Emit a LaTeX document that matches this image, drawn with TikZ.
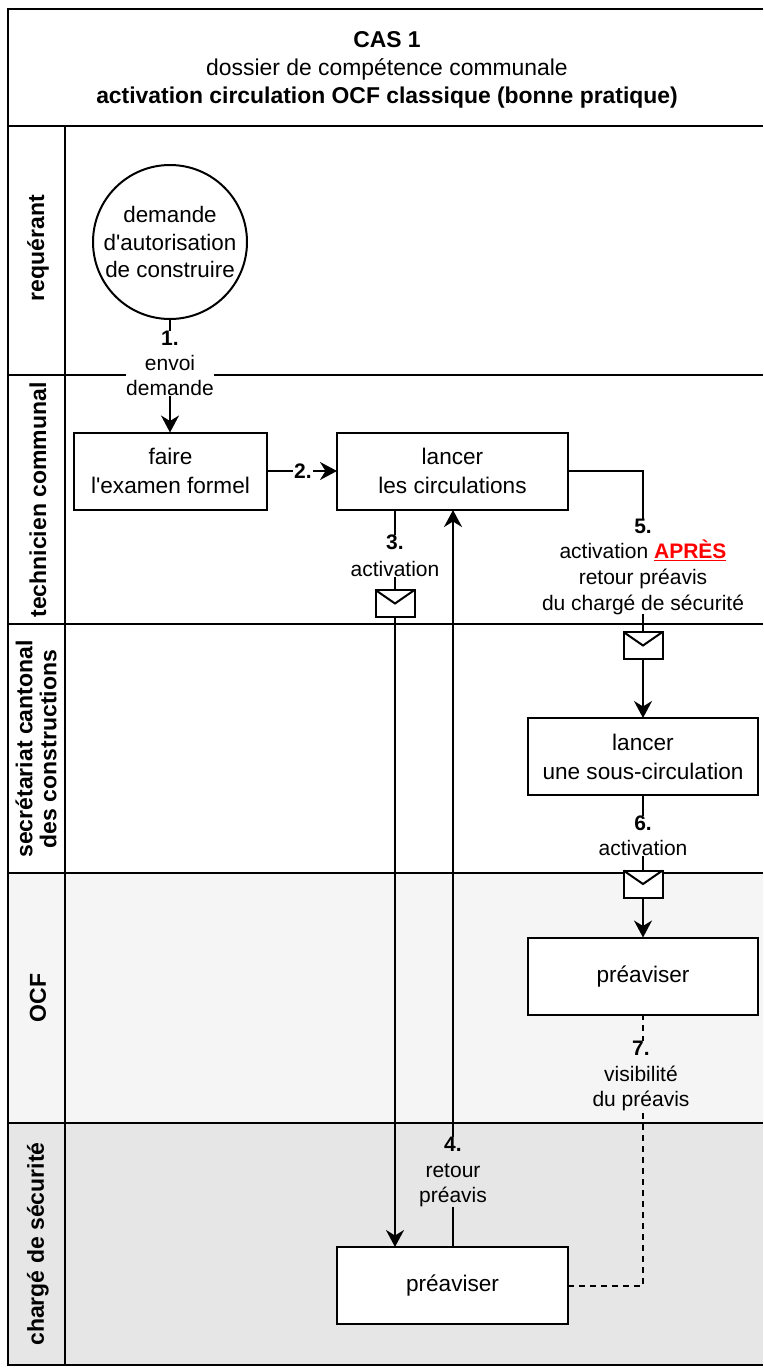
\documentclass[tikz,border=0pt]{standalone}
\usepackage{fontspec}
\setmainfont{Liberation Sans}
\newfontfamily\rawf{Liberation Sans}
\usetikzlibrary{arrows.meta}
\definecolor{laneA}{HTML}{F5F5F5}
\definecolor{laneB}{HTML}{E6E6E6}
\tikzset{
  x=1pt,y=-1pt,
  taskbox/.style={draw,line width=2pt,fill=white,align=center,font=\fontsize{22.6}{29}\selectfont,anchor=north west,inner sep=0pt,outer sep=0pt},
  startc/.style={draw,circle,line width=2pt,fill=white,minimum size=154pt,inner sep=0pt,outer sep=0pt,align=center,font=\fontsize{22.4}{27.3}\selectfont},
  lanelabel/.style={rotate=90,align=center,font=\fontsize{23}{24}\selectfont\bfseries},
  elabel/.style={align=center,font=\fontsize{21}{25.2}\selectfont,inner sep=0pt},
  mailbox/.style={draw,line width=2pt,fill=white,minimum width=39pt,minimum height=27pt,inner sep=0pt,outer sep=0pt},
  flow/.style={line width=2pt},
  tip/.style={-{Stealth[length=17pt,width=18pt,inset=5.5pt]}},
  lanerule/.style={line width=2pt},
}
\begin{document}
\begin{tikzpicture}
\useasboundingbox (0,0) rectangle (763,1368);
% lane backgrounds
\fill[laneA] (8,873) rectangle (763,1123);
\fill[laneB] (8,1123) rectangle (763,1365);
% frame and rules
\draw[lanerule] (763,9) -- (8,9) -- (8,1365) -- (763,1365);
\foreach \yy in {126,375,624,873,1123} \draw[lanerule] (8,\yy) -- (763,\yy);
\draw[lanerule] (65,126) -- (65,1365);
\node[align=center,font=\fontsize{22.9}{28}\selectfont] (title) at (387,70) {\textbf{CAS 1}\\dossier de compétence communale\\\textbf{activation circulation OCF classique (bonne pratique)}};
\node[lanelabel] (l1) at (38,248) {requérant};
\node[lanelabel] (l2) at (38,500) {technicien communal};
\node[lanelabel] (l3) at (36,749) {secrétariat cantonal\\des constructions};
\node[lanelabel] (l4) at (38,998) {OCF};
\node[lanelabel] (l5) at (38,1244) {chargé de sécurité};
% tasks
\node[startc] (dem) at (170,242) {demande\\d{\rawf '}autorisation\\de construire};
\node[taskbox,minimum width=193pt,minimum height=77pt] (exam) at (74,432.5) {faire\\l{\rawf '}examen formel};
\node[taskbox,minimum width=231pt,minimum height=77pt] (lancer) at (337,432.5) {lancer\\les circulations};
\node[taskbox,minimum width=230pt,minimum height=77pt] (sous) at (528,718) {lancer\\une sous-circulation};
\node[taskbox,minimum width=230pt,minimum height=77pt] (preO) at (528,937.5) {\raisebox{-6pt}[0pt][0pt]{préaviser}};
\node[taskbox,minimum width=231pt,minimum height=77pt] (preC) at (337,1247) {\raisebox{-6pt}[0pt][0pt]{préaviser}};
% anchors on the boxes
\coordinate (c3a) at (395,510);
\coordinate (c3b) at (395,1247);
\coordinate (c4a) at (453,1247);
\coordinate (c4b) at (453,510);
\coordinate (c5) at (643,500);
% connectors
\draw[flow,tip] (dem.south) -- (exam.north -| dem.south);
\draw[flow,tip] (exam.east) -- (lancer.west);
\draw[flow,tip] (c3a) -- (c3b);
\draw[flow,tip] (c4a) -- (c4b);
\draw[flow,tip] (lancer.east) -- (lancer.east -| c5) -- (sous.north -| c5);
\draw[flow,tip] (sous.south -| c5) -- (preO.north -| c5);
\draw[flow,dash pattern=on 6pt off 5pt] (preC.east) -- (preC.east -| c5) -- (preO.south -| c5);
% labels
\node[elabel,fill=white] (t1) at (170,363.5) {\textbf{1.}\\envoi\\demande};
\node[elabel,fill=white,inner sep=1pt,font=\fontsize{21}{22}\selectfont\bfseries] (t2) at (303,471.5) {2.};
\node[elabel,fill=white] (t3) at (395,556) {\textbf{3.}\\[1.5pt]activation};
\node[elabel,fill=laneB] (t4) at (453,1172) {\textbf{4.}\\retour\\préavis};
\node[elabel,fill=white] (t5) at (643,566.5) {\textbf{5.}\\activation \textcolor{red}{\textbf{\underline{APRÈS}}}\\[1.5pt]retour préavis\\du chargé de sécurité};
\node[elabel,fill=white] (t6) at (643,836) {\textbf{6.}\\activation};
\node[elabel,fill=laneA] (t7) at (641,1076) {\textbf{7.}\\visibilité\\du préavis};
% envelopes
\node[mailbox] (m3) at (395,603.5) {};
\draw[line width=2pt] (m3.north west) -- (m3.center) -- (m3.north east);
\node[mailbox] (m5) at (643,645.5) {};
\draw[line width=2pt] (m5.north west) -- (m5.center) -- (m5.north east);
\node[mailbox] (m6) at (643,884) {};
\draw[line width=2pt] (m6.north west) -- (m6.center) -- (m6.north east);
\end{tikzpicture}
\end{document}
